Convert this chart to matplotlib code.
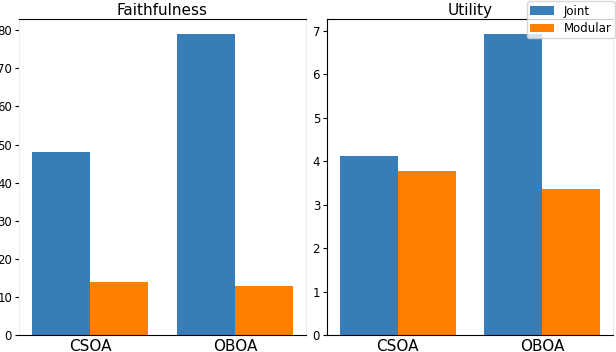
import matplotlib
matplotlib.use("Agg")
import matplotlib.pyplot as plt
import numpy as np

# data
tasks = ["CSOA", "OBOA"]
faith_joint = [48.1, 79.0]
faith_modular = [13.9, 12.9]
utility_joint = [4.12, 6.93]
utility_modular = [3.78, 3.36]

JOINT = '#377eb8'
MODULAR = '#ff7f00'
LIGHT = '#eeeeee'

fig = plt.figure(figsize=(6.16, 3.52), dpi=100)
ax1 = fig.add_axes((19 / 616, 17 / 352, 287 / 616, 316 / 352))
ax2 = fig.add_axes((327 / 616, 17 / 352, 286 / 616, 316 / 352))

x = np.arange(len(tasks))
w = 0.4


def draw(ax, joint, modular, title):
    bj = ax.bar(x - w / 2, joint, w, color=JOINT, label='Joint')
    bm = ax.bar(x + w / 2, modular, w, color=MODULAR, label='Modular')
    ax.set_title(title, fontsize=11, pad=3)
    ax.set_xticks(x)
    ax.set_xticklabels(tasks, fontsize=11)
    ax.tick_params(axis='x', length=0, pad=3)
    ax.tick_params(axis='y', labelsize=8.5, length=3, pad=2)
    return bj, bm


bj, bm = draw(ax1, faith_joint, faith_modular, 'Faithfulness')
draw(ax2, utility_joint, utility_modular, 'Utility')

# spines as in the reference: faint sides on the left panel
ax1.spines['left'].set_color(LIGHT)
ax1.spines['right'].set_color(LIGHT)
ax2.spines['right'].set_color(LIGHT)

fig.legend([bj, bm], ['Joint', 'Modular'], loc='upper right',
           bbox_to_anchor=(1.0, 1.0), fontsize=8.5, borderaxespad=0.1,
           handlelength=2.0, borderpad=0.3, labelspacing=0.35)

fig.savefig('out.png', dpi=100)
